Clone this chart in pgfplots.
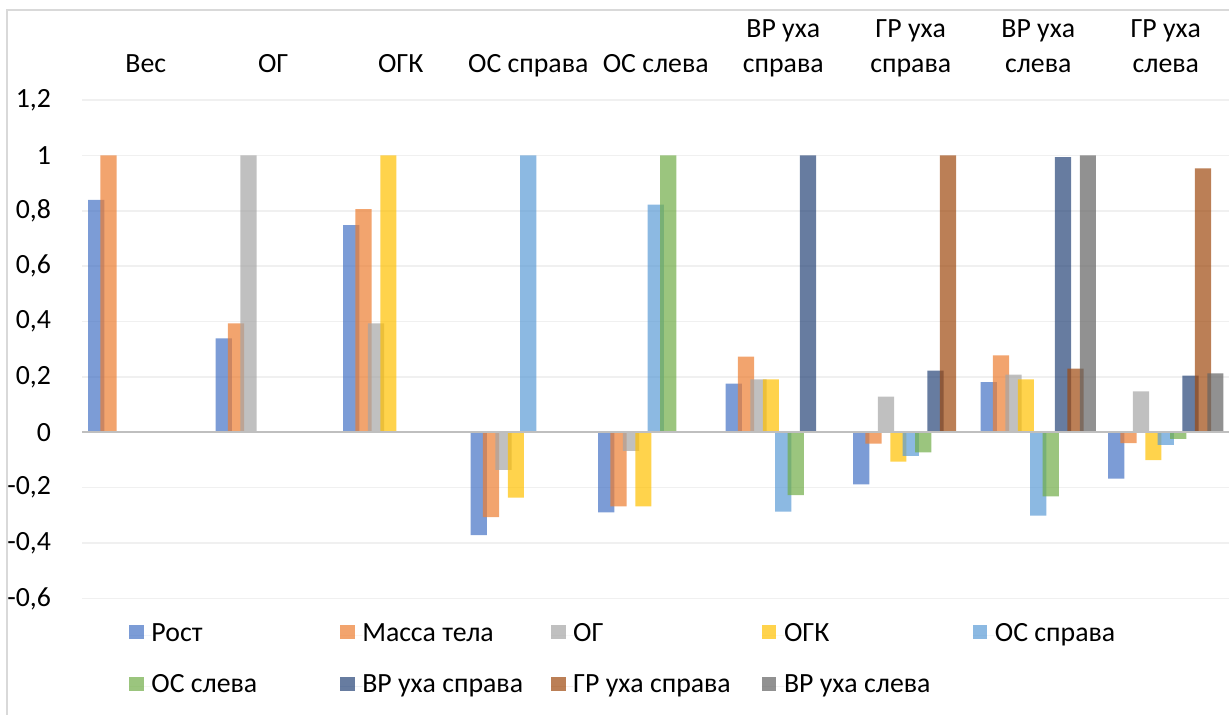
\documentclass[border=0pt]{standalone}
\usepackage{fontspec}
\setmainfont{Carlito}
\usepackage{pgfplots}
\pgfplotsset{compat=1.18}
\definecolor{c1}{HTML}{4472C4}
\definecolor{c2}{HTML}{ED7D31}
\definecolor{c3}{HTML}{A5A5A5}
\definecolor{c4}{HTML}{FFC000}
\definecolor{c5}{HTML}{5B9BD5}
\definecolor{c6}{HTML}{70AD47}
\definecolor{c7}{HTML}{264478}
\definecolor{c8}{HTML}{9E480E}
\definecolor{c9}{HTML}{636363}
\newcommand{\lab}[2]{\begin{tabular}[b]{@{}c@{}}#1\\[1.5pt]#2\end{tabular}}
\newcommand{\fnt}{\fontsize{13.9}{16}\selectfont}
\newcommand{\lgent}[1]{\makebox[94.4pt][l]{#1}}
\pgfplotsset{mybar/.style={ybar, bar width=8.1pt, draw=none, fill opacity=0.7,
  legend image code/.code={\fill[##1, draw=none] (0pt,-2.1pt) rectangle (7.25pt,5.15pt); \path (0pt,0pt) -- (11.05pt,0pt);}}}
\begin{document}
\begin{tikzpicture}[font=\fnt]
\path[use as bounding box] (0,0) rectangle (614.5pt,357.5pt);
\draw[color=gray!30, line width=0.75pt] (3.5pt,-5pt) -- (3.5pt,352.5pt) -- (620pt,352.5pt);
\begin{axis}[
  at={(41pt,58.25pt)}, anchor=south west,
  scale only axis, width=573.75pt, height=249.25pt,
  xmin=-0.5, xmax=8.5, ymin=-0.6, ymax=1.2,
  ytick={-0.6,-0.4,-0.2,0,0.2,0.4,0.6,0.8,1,1.2},
  yticklabels={{-0,6},{-0,4},{-0,2},0,{0,2},{0,4},{0,6},{0,8},1,{1,2}},
  xtick={0,1,2,3,4,5,6,7,8},
  xticklabels={Вес, ОГ, ОГК, {ОС справа}, {ОС слева}, {\lab{ВР уха}{справа}}, {\lab{ГР уха}{справа}}, {\lab{ВР уха}{слева}}, {\lab{ГР уха}{слева}}},
  xticklabel pos=right,
  xticklabel style={anchor=base, yshift=13.5pt, font=\fnt},
  yticklabel style={xshift=-12pt, font=\fnt},
  ymajorgrids, grid style={color=gray!12, line width=0.75pt},
  axis line style={draw=none}, major tick length=0pt,
  legend columns=5,
  legend cell align=left,
  legend style={at={(0.0412,-0.0496)}, anchor=north west, draw=none, fill=none,
    inner sep=0pt, outer sep=0pt, font=\fnt, row sep=13.8pt, column sep=0pt,
    nodes={inner sep=0pt, text height=9pt, text depth=3pt}},
]
\addplot[mybar, fill=c1, bar shift=-24.8pt] coordinates {(0,0.839) (1,0.339) (2,0.748) (3,-0.371) (4,-0.289) (5,0.176) (6,-0.188) (7,0.181) (8,-0.167)};
\addlegendentry{\lgent{Рост}}
\addplot[mybar, fill=c2, bar shift=-18.6pt] coordinates {(0,1) (1,0.393) (2,0.806) (3,-0.306) (4,-0.267) (5,0.273) (6,-0.041) (7,0.278) (8,-0.039)};
\addlegendentry{\lgent{Масса тела}}
\addplot[mybar, fill=c3, bar shift=-12.4pt] coordinates {(1,1) (2,0.393) (3,-0.136) (4,-0.067) (5,0.191) (6,0.129) (7,0.208) (8,0.148)};
\addlegendentry{\lgent{ОГ}}
\addplot[mybar, fill=c4, bar shift=-6.2pt] coordinates {(2,1) (3,-0.236) (4,-0.267) (5,0.191) (6,-0.106) (7,0.191) (8,-0.100)};
\addlegendentry{\lgent{ОГК}}
\addplot[mybar, fill=c5, bar shift=0pt] coordinates {(3,1) (4,0.822) (5,-0.286) (6,-0.085) (7,-0.301) (8,-0.045)};
\addlegendentry{\lgent{ОС справа}}
\addplot[mybar, fill=c6, bar shift=6.2pt] coordinates {(4,1) (5,-0.227) (6,-0.072) (7,-0.231) (8,-0.024)};
\addlegendentry{\lgent{ОС слева}}
\addplot[mybar, fill=c7, bar shift=12.4pt] coordinates {(5,1) (6,0.223) (7,0.994) (8,0.205)};
\addlegendentry{\lgent{ВР уха справа}}
\addplot[mybar, fill=c8, bar shift=18.6pt] coordinates {(6,1) (7,0.230) (8,0.953)};
\addlegendentry{\lgent{ГР уха справа}}
\addplot[mybar, fill=c9, bar shift=24.8pt] coordinates {(7,1) (8,0.213)};
\addlegendentry{\lgent{ВР уха слева}}
\draw[color=gray!50, line width=1pt] (axis cs:-0.5,0) -- (axis cs:8.5,0);
\end{axis}
\end{tikzpicture}
\end{document}
